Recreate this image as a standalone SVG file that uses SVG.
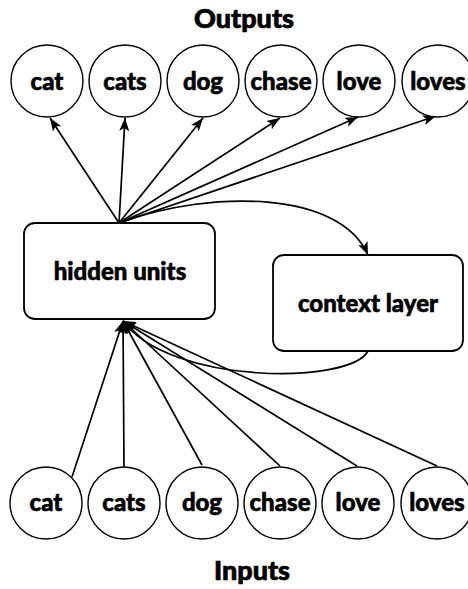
<svg xmlns="http://www.w3.org/2000/svg" width="468" height="589" viewBox="0 0 468 589">
  <defs>
    <marker id="head" markerUnits="userSpaceOnUse" markerWidth="14" markerHeight="10" refX="13" refY="5" orient="auto">
      <path d="M0,0 L13,5 L0,10 L3,5 Z" fill="#000"/>
    </marker>
    <style>
      .unit { fill: #fff; stroke: #000; stroke-width: 1.4; }
      .box { fill: #fff; stroke: #000; stroke-width: 1.8; }
      .lbl { font-family: Lato, "Liberation Sans", sans-serif; font-weight: 900; font-size: 24px; text-anchor: middle; fill: #000; stroke: #000; stroke-width: 0.6; }
      .title { font-family: Lato, "Liberation Sans", sans-serif; font-weight: 900; font-size: 27px; text-anchor: middle; fill: #000; stroke: #000; stroke-width: 0.7; }
      .edge { fill: none; stroke: #000; stroke-width: 1.7; }
      .arr { marker-end: url(#head); }
    </style>
  </defs>
  <rect width="468" height="589" fill="#fff"/>

  <text class="title" x="244" y="28">Outputs</text>
  <text class="title" x="252" y="580">Inputs</text>

  <!-- connectors -->
  <g id="connectors">
    <!-- hidden -> outputs -->
    <line class="edge arr" x1="119" y1="223" x2="50" y2="118"/>
    <line class="edge arr" x1="119" y1="223" x2="125" y2="118"/>
    <line class="edge arr" x1="119" y1="223" x2="203" y2="118"/>
    <line class="edge arr" x1="119" y1="223" x2="280" y2="118"/>
    <line class="edge arr" x1="119" y1="223" x2="358" y2="117"/>
    <line class="edge arr" x1="119" y1="223" x2="436" y2="116"/>
    <!-- hidden -> context (copy) -->
    <path class="edge arr" d="M122,222 C210,190 340,190 368,255"/>
    <!-- context -> hidden -->
    <path class="edge arr" d="M368,351 C350,385 170,385 123,321"/>
    <!-- inputs -> hidden -->
    <line class="edge arr" x1="72" y1="477" x2="123" y2="321"/>
    <line class="edge arr" x1="124" y1="467" x2="123" y2="321"/>
    <line class="edge arr" x1="202" y1="465" x2="123" y2="321"/>
    <line class="edge arr" x1="280" y1="466" x2="123" y2="321"/>
    <line class="edge arr" x1="357" y1="466" x2="123" y2="321"/>
    <line class="edge arr" x1="437" y1="466" x2="123" y2="321"/>
  </g>

  <!-- output units -->
  <g id="out-cat"><circle class="unit" cx="47" cy="81" r="36"/><text class="lbl" x="47" y="90">cat</text></g>
  <g id="out-cats"><circle class="unit" cx="125" cy="81" r="36"/><text class="lbl" x="125" y="90">cats</text></g>
  <g id="out-dog"><circle class="unit" cx="203" cy="81" r="36"/><text class="lbl" x="203" y="90">dog</text></g>
  <g id="out-chase"><circle class="unit" cx="281" cy="81" r="36"/><text class="lbl" x="281" y="90">chase</text></g>
  <g id="out-love"><circle class="unit" cx="359" cy="81" r="36"/><text class="lbl" x="359" y="90">love</text></g>
  <g id="out-loves"><circle class="unit" cx="438" cy="81" r="36"/><text class="lbl" x="438" y="90">loves</text></g>

  <!-- hidden and context layers -->
  <g id="hidden"><rect class="box" x="24" y="223" width="191" height="96" rx="11"/><text class="lbl" x="120" y="280">hidden units</text></g>
  <g id="context"><rect class="box" x="273" y="255" width="190" height="96" rx="11"/><text class="lbl" x="368" y="312">context layer</text></g>

  <!-- input units -->
  <g id="in-cat"><circle class="unit" cx="46" cy="503" r="36"/><text class="lbl" x="46" y="511">cat</text></g>
  <g id="in-cats"><circle class="unit" cx="124" cy="503" r="36"/><text class="lbl" x="124" y="511">cats</text></g>
  <g id="in-dog"><circle class="unit" cx="202" cy="503" r="36"/><text class="lbl" x="202" y="511">dog</text></g>
  <g id="in-chase"><circle class="unit" cx="280" cy="503" r="36"/><text class="lbl" x="280" y="511">chase</text></g>
  <g id="in-love"><circle class="unit" cx="358" cy="503" r="36"/><text class="lbl" x="358" y="511">love</text></g>
  <g id="in-loves"><circle class="unit" cx="437" cy="503" r="36"/><text class="lbl" x="437" y="511">loves</text></g>
</svg>
